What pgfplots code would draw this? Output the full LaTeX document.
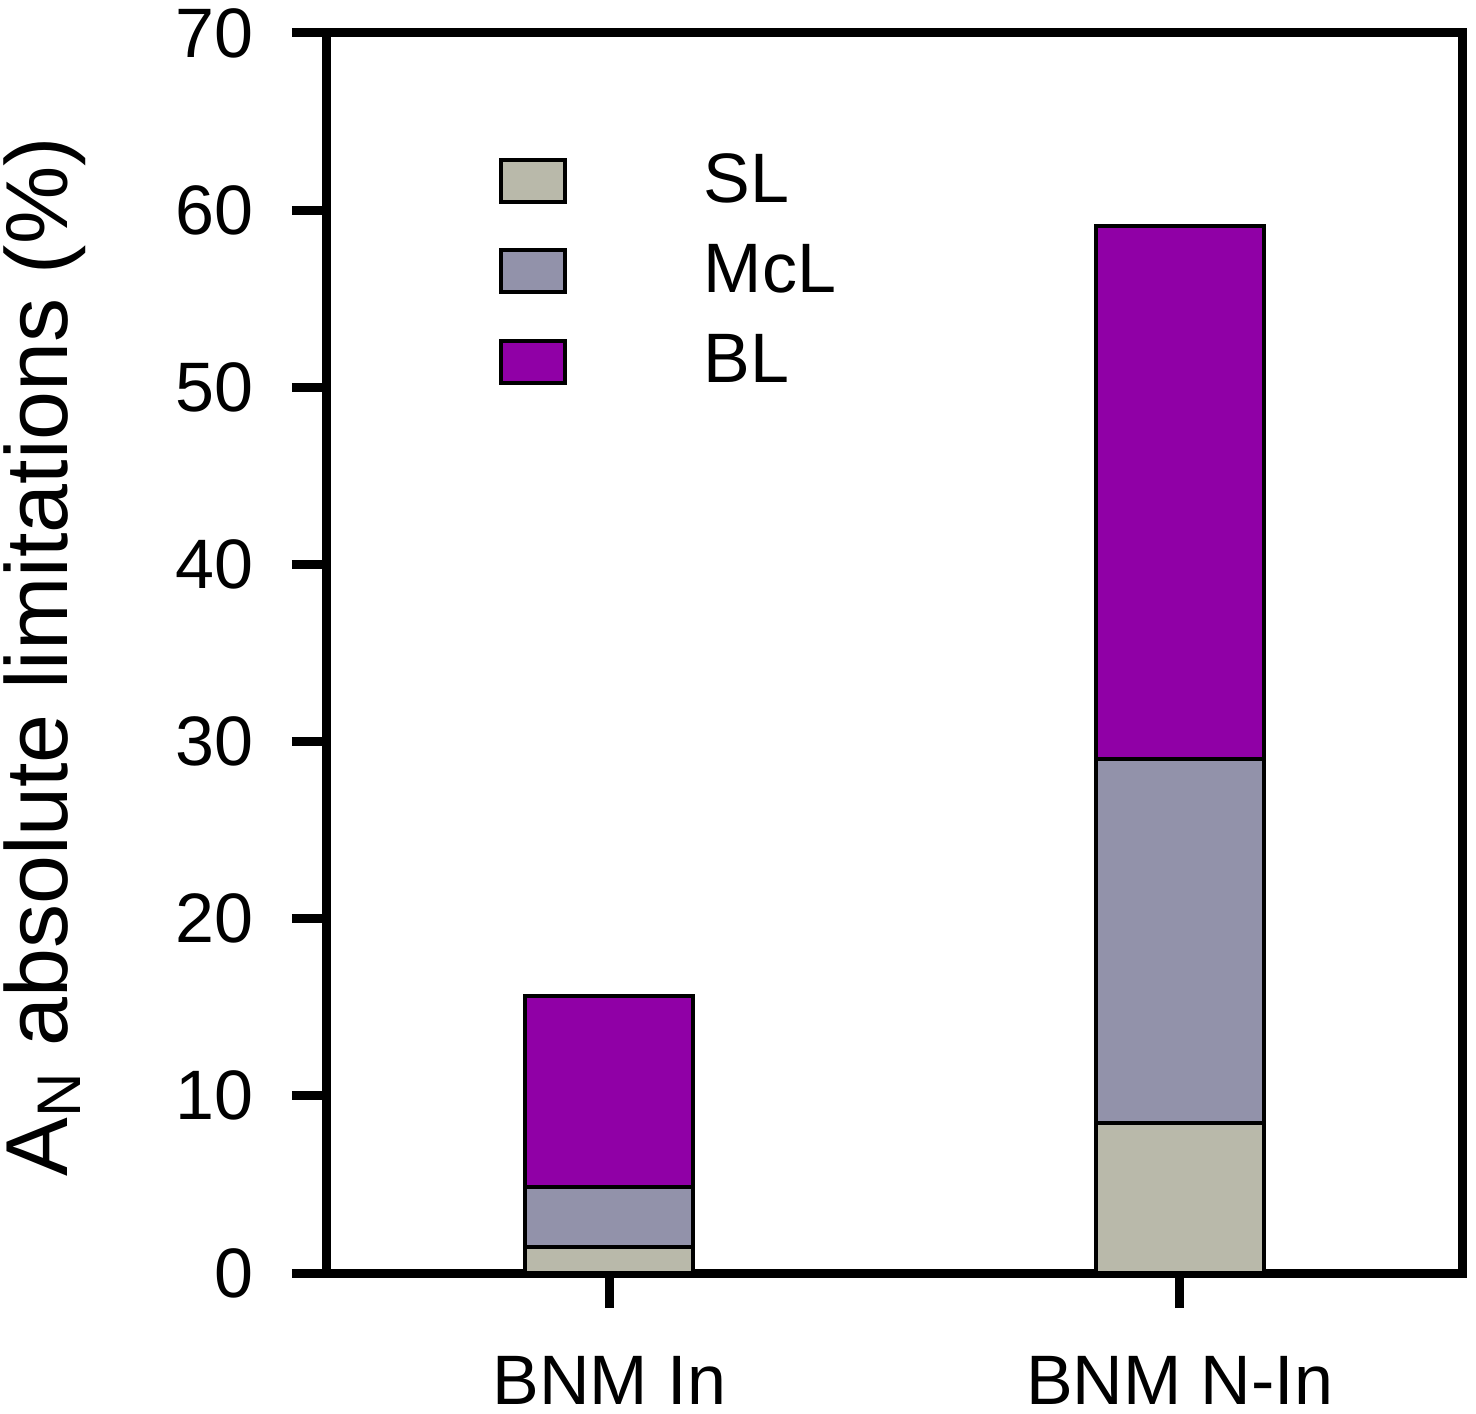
\documentclass[border=0pt]{standalone}
\usepackage{fontspec}
\setmainfont{Liberation Sans}
\usepackage{pgfplots}
\pgfplotsset{compat=1.18}
\definecolor{slc}{RGB}{185,185,170}
\definecolor{mclc}{RGB}{146,146,170}
\definecolor{blc}{RGB}{144,0,166}
\pgfplotsset{mylegend/.style={legend image code/.code={\draw[##1,line width=1pt,draw=black] (0pt,-5.25pt) rectangle (16pt,5.25pt);}}}
\begin{document}
\begin{tikzpicture}
\begin{axis}[
  name=ax,
  scale only axis,
  width=283.75pt, height=310pt,
  xmin=-0.495, xmax=1.495,
  ymin=0, ymax=70,
  ybar stacked, bar width=42pt,
  xtick={0,1}, xticklabels={BNM In, BNM N-In},
  ytick={0,10,20,30,40,50,60,70},
  tick pos=left,
  tick align=outside,
  major tick length=8.75pt,
  axis line style={line width=2.25pt},
  tick style={black, line width=2.25pt},
  /pgf/number format/assume math mode=true,
  tick label style={font=\fontsize{17.5}{21}\selectfont},
  yticklabel style={anchor=east, inner sep=0pt, xshift=-9.5pt},
  xticklabel style={anchor=base, inner sep=0pt, yshift=-24pt},
  ylabel={A\textsubscript{N} absolute limitations (\%)},
  ylabel style={at={(axis description cs:-0.229,0.497)}, anchor=base, font=\fontsize{22}{26}\selectfont},
  legend style={at={(0.1507,0.91)}, anchor=north west, draw=none, fill=none, inner sep=0pt,
    row sep=5pt, column sep=32.25pt, font=\fontsize{17.5}{21}\selectfont, nodes={inner sep=2pt}},
  legend cell align=left,
]
\addplot[fill=slc, draw=black, line width=1pt, mylegend] coordinates {(0,1.47) (1,8.47)};
\addplot[fill=mclc, draw=black, line width=1pt, mylegend] coordinates {(0,3.38) (1,20.55)};
\addplot[fill=blc, draw=black, line width=1pt, mylegend] coordinates {(0,10.79) (1,30.08)};
\legend{SL, McL, BL}
\end{axis}
\pgfresetboundingbox
\path ([shift={(-81.75pt,-35pt)}]ax.south west) rectangle ([shift={(3.5pt,8.25pt)}]ax.north east);
\end{tikzpicture}
\end{document}
